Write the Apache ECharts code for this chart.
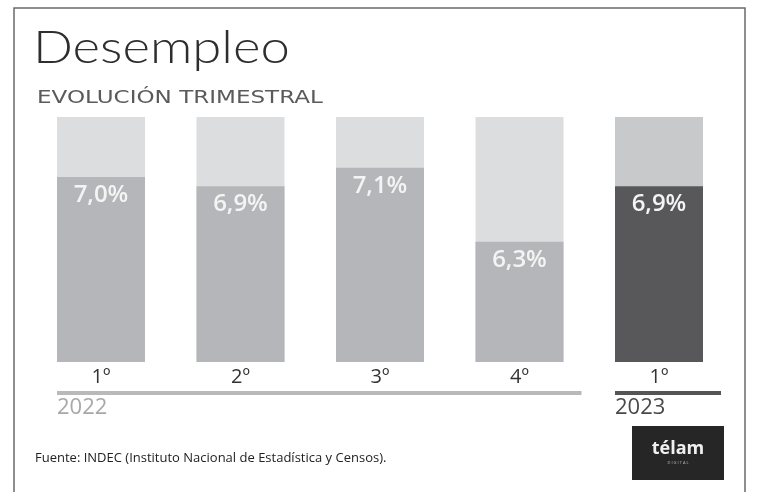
<!DOCTYPE html>
<html>
<head>
<meta charset="utf-8">
<script src="https://cdn.jsdelivr.net/npm/echarts@6/dist/echarts.min.js"></script>
<style>
  html, body { margin: 0; padding: 0; background: #fff; }
  #main { width: 758px; height: 492px; }
</style>
</head>
<body>
<div id="main"></div>
<script>
// datos del gráfico
var quarters = ['1º', '2º', '3º', '4º', '1º'];
var years = ['2022', '2022', '2022', '2022', '2023'];
var rates = [7.0, 6.9, 7.1, 6.3, 6.9];

var axisMin = 5.0;
var axisMax = 7.65;

var trackColor = { '2022': '#dcdddf', '2023': '#c8c9cb' };
var fillColor = { '2022': '#b5b6b9', '2023': '#58585a' };

var myChart = echarts.init(document.getElementById('main'));

var option = {
    backgroundColor: '#ffffff',
    animation: false,
    grid: { left: 31.25, right: 29.25, top: 117, bottom: 130 },
    xAxis: {
        type: 'category',
        data: quarters,
        axisLine: { show: false },
        axisTick: { show: false },
        axisLabel: {
            margin: 5,
            fontSize: 20,
            color: '#333',
            fontFamily: 'Open Sans'
        }
    },
    yAxis: {
        type: 'value',
        min: axisMin,
        max: axisMax,
        show: false,
        splitLine: { show: false }
    },
    series: [{
        // fondo de la barra
        type: 'bar',
        barWidth: 88,
        barGap: '-100%',
        silent: true,
        data: rates.map(function (v, i) {
            return { value: axisMax, itemStyle: { color: trackColor[years[i]] } };
        })
    }, {
        type: 'bar',
        barWidth: 88,
        data: rates.map(function (v, i) {
            return { value: v, itemStyle: { color: fillColor[years[i]] } };
        }),
        label: {
            show: true,
            position: 'insideTop',
            distance: 6,
            fontSize: 24,
            fontWeight: 600,
            fontFamily: 'Open Sans',
            color: '#f4f4f4',
            formatter: function (p) {
                return p.value.toFixed(1).replace('.', ',') + '%';
            }
        }
    }]
};

myChart.setOption(option);

// líneas de año debajo de las categorías
var half = 44;
var x0 = myChart.convertToPixel({ xAxisIndex: 0 }, 0) - half;
var x3 = myChart.convertToPixel({ xAxisIndex: 0 }, 3) + half + 18;
var x4 = myChart.convertToPixel({ xAxisIndex: 0 }, 4) - half;
var x4e = x4 + 2 * half + 18;
var lineY = 393;

myChart.setOption({
    graphic: [
        {
            type: 'rect',
            shape: { x: 14, y: 8, width: 731, height: 510 },
            style: { fill: 'none', stroke: '#6a6a6a', lineWidth: 1.5 },
            silent: true
        },
        {
            type: 'text', x: 33, y: 26, scaleX: 1.17,
            style: { text: 'Desempleo', font: '300 45px Lato', fill: '#2e2e2e' }
        },
        {
            type: 'text', x: 37, y: 89, scaleX: 1.28,
            style: { text: 'EVOLUCIÓN TRIMESTRAL', font: '18px "DejaVu Sans"', fill: '#5a5a5a' }
        },
        {
            type: 'line',
            shape: { x1: x0, y1: lineY, x2: x3, y2: lineY },
            style: { stroke: '#b9b9b9', lineWidth: 4 }
        },
        {
            type: 'line',
            shape: { x1: x4, y1: lineY, x2: x4e, y2: lineY },
            style: { stroke: '#555555', lineWidth: 4 }
        },
        {
            type: 'text', x: x0, y: 397,
            style: { text: years[0], font: '22px "Open Sans"', fill: '#a8a8a8' }
        },
        {
            type: 'text', x: x4, y: 397,
            style: { text: years[4], font: '22px "Open Sans"', fill: '#4a4a4a' }
        },
        {
            type: 'text', x: 35, y: 452,
            style: { text: 'Fuente: INDEC (Instituto Nacional de Estadística y Censos).', font: '13px "Open Sans"', fill: '#222' }
        },
        {
            type: 'rect',
            shape: { x: 632, y: 426, width: 92, height: 54 },
            style: { fill: '#262626' }
        },
        {
            type: 'text', x: 678, y: 449,
            style: { text: 'télam', font: 'bold 18px "Open Sans"', fill: '#f0f0f0', align: 'center', verticalAlign: 'middle' }
        },
        {
            type: 'text', x: 678, y: 463,
            style: { text: 'D I G I T A L', font: '4px "Open Sans"', fill: '#bbbbbb', align: 'center', verticalAlign: 'middle' }
        }
    ]
});
</script>
</body>
</html>
